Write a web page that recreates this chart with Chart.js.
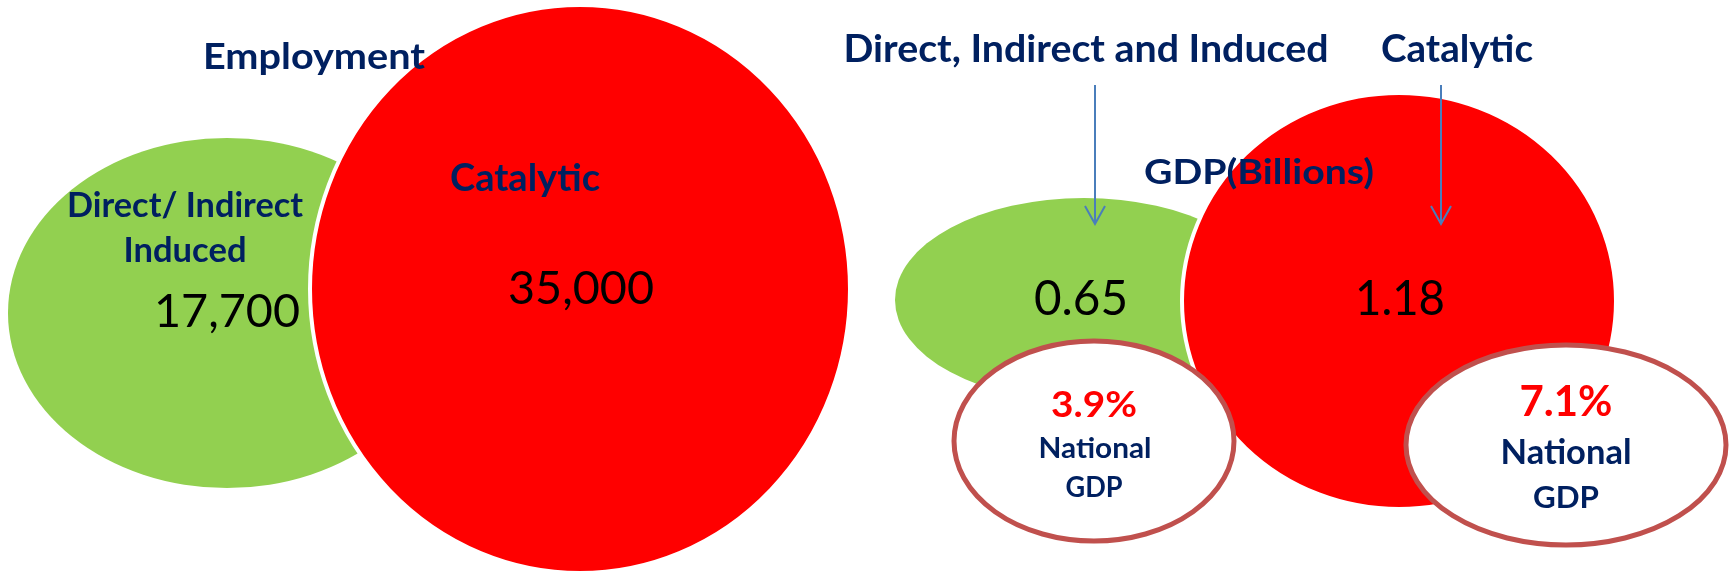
<!DOCTYPE html>
<html>
<head>
<meta charset="utf-8">
<script src="https://cdn.jsdelivr.net/npm/chart.js@4"></script>
<style>
  html, body { margin: 0; padding: 0; background: #fff; }
  #wrap { width: 1729px; height: 577px; }
</style>
</head>
<body>
<div id="wrap"><canvas id="venn"></canvas></div>
<script>
// chart values
const empCategories = ["Direct/ Indirect Induced", "Catalytic"];
const empValues = [17700, 35000];
const gdpCategories = ["Direct, Indirect and Induced", "Catalytic"];
const gdpValues = [0.65, 1.18];
const gdpShare = [3.9, 7.1];

// layout, in axis units (the axes span the page in pixels)
const empCenters = [{ x: 227, y: 313 }, { x: 580, y: 289 }];
const empRadii = [[219, 175], [270, 284]];
const gdpCenters = [{ x: 1084, y: 300 }, { x: 1399, y: 301 }];
const gdpRadii = [[189, 102], [217, 208]];
const shareCenters = [{ x: 1094, y: 441 }, { x: 1566, y: 445 }];
const shareRadii = [[140, 100], [160, 100]];
const arrowX = [1095, 1441];
const arrowY = [85, 224];

const NAVY = "#002060";
const GREEN = "#92D050";
const RED = "#FF0000";
const RING = "#C0504D";

function ds(label, centers, radii, fills, rings, ringWidths) {
  return {
    label: label,
    data: centers.map(c => ({ x: c.x, y: c.y, r: 0 })),
    rx: radii.map(r => r[0]),
    ry: radii.map(r => r[1]),
    fills: fills,
    rings: rings,
    ringWidths: ringWidths,
    backgroundColor: "transparent",
    borderWidth: 0
  };
}

// text: [text, x, baseline, capHeight, width, bold, colour]
const texts = [
  ["Employment", 314, 69, 26.5, 222, true, NAVY],
  [empCategories[1], 525, 191, 27, 150, true, NAVY],
  ["Direct/ Indirect", 185, 217, 24.5, 236, true, NAVY],
  ["Induced", 185, 262, 24.5, 123, true, NAVY],
  [empValues[0].toLocaleString("en-US"), 227, 327, 33.5, 146, false, "#000"],
  [empValues[1].toLocaleString("en-US"), 581, 304, 33.5, 146, false, "#000"],
  [gdpCategories[0], 1086, 62, 27, 485, true, NAVY],
  [gdpCategories[1], 1457, 62, 27, 152, true, NAVY],
  ["GDP(Billions)", 1259, 184, 25, 230, true, NAVY],
  [gdpValues[0].toFixed(2), 1081, 315, 34, 94, false, "#000"],
  [gdpValues[1].toFixed(2), 1400, 315, 34, 90, false, "#000"],
  [gdpShare[0].toFixed(1) + "%", 1094, 417, 25.5, 86, true, RED],
  ["National", 1095, 458, 21, 113, true, NAVY],
  ["GDP", 1094, 497, 20, 57, true, NAVY],
  [gdpShare[1].toFixed(1) + "%", 1566, 416, 30, 93, true, RED],
  ["National", 1566, 464, 24, 131, true, NAVY],
  ["GDP", 1566, 508, 22, 66, true, NAVY]
];

const vennPlugin = {
  id: "venn",
  beforeDatasetsDraw(chart) {
    const ctx = chart.ctx;
    const xs = chart.scales.x, ys = chart.scales.y;
    chart.data.datasets.forEach((d, di) => {
      const meta = chart.getDatasetMeta(di);
      meta.data.forEach((pt, i) => {
        const rx = Math.abs(xs.getPixelForValue(d.data[i].x + d.rx[i]) - pt.x);
        const ry = Math.abs(ys.getPixelForValue(d.data[i].y + d.ry[i]) - pt.y);
        ctx.save();
        ctx.beginPath();
        ctx.ellipse(pt.x, pt.y, rx, ry, 0, 0, Math.PI * 2);
        ctx.fillStyle = d.fills[i];
        ctx.fill();
        if (d.ringWidths[i] > 0) {
          ctx.lineWidth = d.ringWidths[i];
          ctx.strokeStyle = d.rings[i];
          ctx.stroke();
        }
        ctx.restore();
      });
    });
  },
  afterDatasetsDraw(chart) {
    const ctx = chart.ctx;
    const xs = chart.scales.x, ys = chart.scales.y;

    // arrows
    ctx.save();
    ctx.strokeStyle = "#4A7EBB";
    ctx.lineWidth = 2;
    arrowX.forEach(ax => {
      const px = xs.getPixelForValue(ax);
      const y0 = ys.getPixelForValue(arrowY[0]);
      const y1 = ys.getPixelForValue(arrowY[1]);
      ctx.beginPath();
      ctx.moveTo(px, y0);
      ctx.lineTo(px, y1);
      ctx.moveTo(px - 10, y1 - 18);
      ctx.lineTo(px, y1);
      ctx.lineTo(px + 10, y1 - 18);
      ctx.stroke();
    });
    ctx.restore();

    // labels
    texts.forEach(t => {
      const [str, x, y, cap, w, bold, color] = t;
      const size = cap / 0.7165;
      ctx.save();
      ctx.font = (bold ? "bold " : "") + size + "px Lato";
      ctx.fillStyle = color;
      ctx.textAlign = "center";
      ctx.textBaseline = "alphabetic";
      const mw = ctx.measureText(str).width;
      ctx.translate(xs.getPixelForValue(x), ys.getPixelForValue(y));
      ctx.scale(w / mw, 1);
      ctx.fillText(str, 0, 0);
      ctx.restore();
    });
  }
};

new Chart(document.getElementById("venn"), {
  type: "bubble",
  data: {
    datasets: [
      ds("Employment", empCenters, empRadii, [GREEN, RED], ["#fff", "#fff"], [0, 4]),
      ds("GDP(Billions)", gdpCenters, gdpRadii, [GREEN, RED], ["#fff", "#fff"], [0, 4]),
      ds("National GDP", shareCenters, shareRadii, ["#fff", "#fff"], [RING, RING], [5, 5])
    ]
  },
  options: {
    responsive: true,
    maintainAspectRatio: false,
    animation: false,
    layout: { padding: 0 },
    plugins: {
      legend: { display: false },
      tooltip: { enabled: false }
    },
    scales: {
      x: { type: "linear", min: 0, max: 1729, display: false },
      y: { type: "linear", min: 0, max: 577, reverse: true, display: false }
    }
  },
  plugins: [vennPlugin]
});
</script>
</body>
</html>
